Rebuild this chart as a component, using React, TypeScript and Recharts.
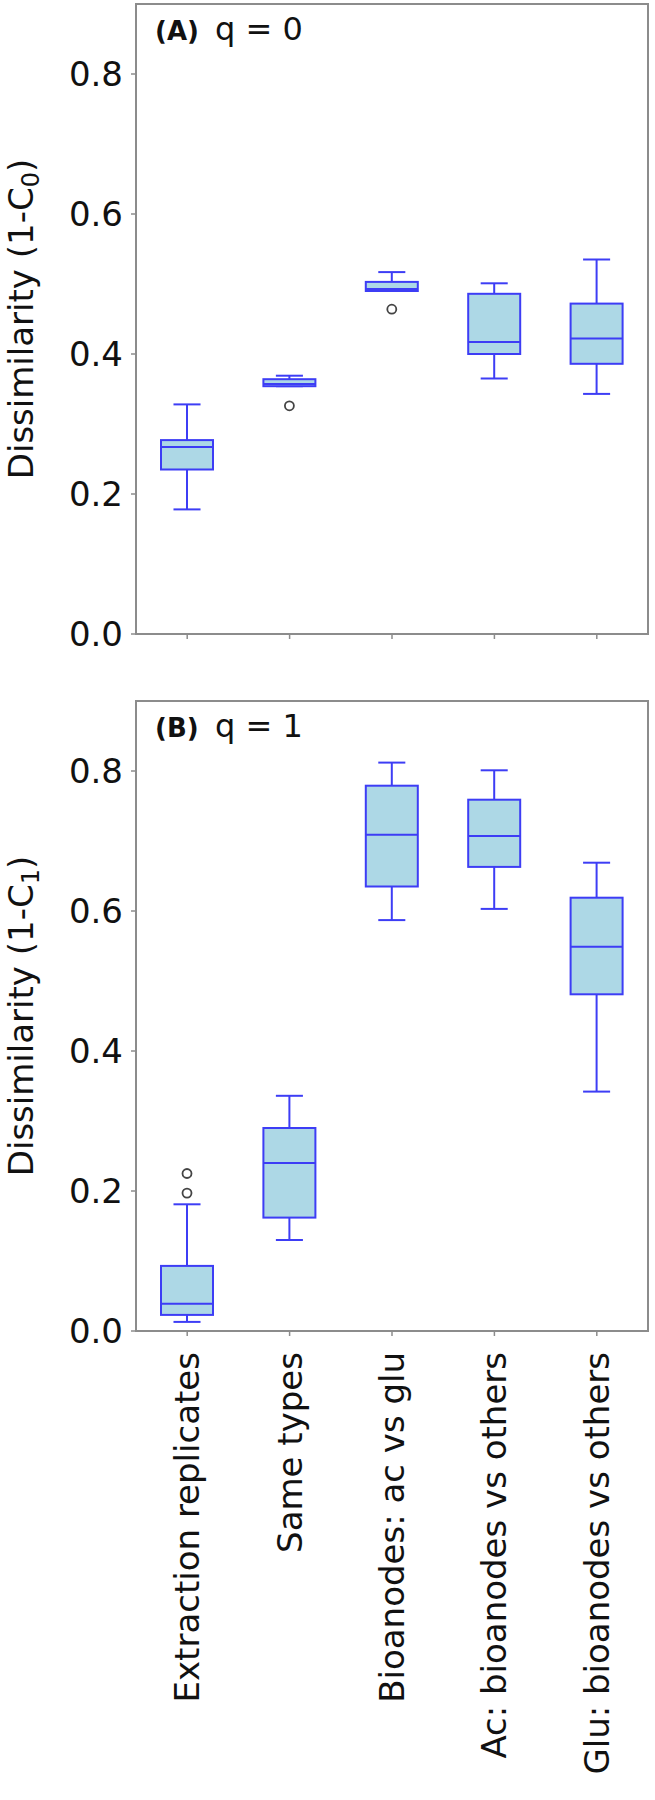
import { ComposedChart, Bar, XAxis, YAxis } from "recharts";

const categories = [
  "Extraction replicates",
  "Same types",
  "Bioanodes: ac vs glu",
  "Ac: bioanodes vs others",
  "Glu: bioanodes vs others",
];
const yTicks = [0, 0.2, 0.4, 0.6, 0.8];

// (A) q = 0
const q0Min = [0.178, 0.354, 0.49, 0.365, 0.343];
const q0Q1 = [0.235, 0.354, 0.49, 0.4, 0.386];
const q0Med = [0.267, 0.357, 0.493, 0.417, 0.422];
const q0Q3 = [0.277, 0.364, 0.503, 0.486, 0.472];
const q0Max = [0.328, 0.369, 0.517, 0.501, 0.535];
const q0Out = [[], [0.326], [0.464], [], []];

// (B) q = 1
const q1Min = [0.013, 0.13, 0.587, 0.603, 0.342];
const q1Q1 = [0.023, 0.162, 0.635, 0.663, 0.481];
const q1Med = [0.039, 0.24, 0.709, 0.707, 0.549];
const q1Q3 = [0.093, 0.29, 0.779, 0.759, 0.619];
const q1Max = [0.181, 0.336, 0.812, 0.801, 0.669];
const q1Out = [[0.225, 0.197], [], [], [], []];

const BOX = "#3d3df5";
const FILL = "#add8e6";
const FRAME = "#8c8c8c";
const FONT = "'DejaVu Sans', sans-serif";

// plot box inside each chart
const LEFT = 136;
const TOP = 4;
const PLOT_W = 512;
const PLOT_H = 630;

type Row = {
  name: string;
  range: [number, number];
  min: number;
  q1: number;
  med: number;
  q3: number;
  max: number;
  out: number[];
};

function buildRows(
  mins: number[],
  q1s: number[],
  meds: number[],
  q3s: number[],
  maxs: number[],
  outs: number[][]
): Row[] {
  return categories.map((name, i) => ({
    name,
    range: [Math.min(mins[i], ...outs[i]), Math.max(maxs[i], ...outs[i])],
    min: mins[i],
    q1: q1s[i],
    med: meds[i],
    q3: q3s[i],
    max: maxs[i],
    out: outs[i],
  }));
}

const rowsA = buildRows(q0Min, q0Q1, q0Med, q0Q3, q0Max, q0Out);
const rowsB = buildRows(q1Min, q1Q1, q1Med, q1Q3, q1Max, q1Out);

const BoxShape = (props: any) => {
  const { x, y, width, height, payload } = props;
  if (!payload) return null;
  const top = Math.min(y, y + height);
  const h = Math.abs(height);
  const [lo, hi] = payload.range;
  const py = (v: number) => top + ((hi - v) / (hi - lo)) * h;
  const cx = x + width / 2;
  const capHalf = width * 0.26;
  return (
    <g>
      <line x1={cx} x2={cx} y1={py(payload.max)} y2={py(payload.q3)} stroke={BOX} strokeWidth={2} />
      <line x1={cx} x2={cx} y1={py(payload.q1)} y2={py(payload.min)} stroke={BOX} strokeWidth={2} />
      <line x1={cx - capHalf} x2={cx + capHalf} y1={py(payload.max)} y2={py(payload.max)} stroke={BOX} strokeWidth={2} />
      <line x1={cx - capHalf} x2={cx + capHalf} y1={py(payload.min)} y2={py(payload.min)} stroke={BOX} strokeWidth={2} />
      <rect
        x={x}
        y={py(payload.q3)}
        width={width}
        height={Math.max(py(payload.q1) - py(payload.q3), 0.5)}
        fill={FILL}
        stroke={BOX}
        strokeWidth={2}
      />
      <line x1={x} x2={x + width} y1={py(payload.med)} y2={py(payload.med)} stroke={BOX} strokeWidth={2} />
      {payload.out.map((o: number, i: number) => (
        <circle key={i} cx={cx} cy={py(o)} r={4.5} fill="none" stroke="#444" strokeWidth={1.8} />
      ))}
    </g>
  );
};

const XTick = (props: any) => {
  const { x, y, payload } = props;
  return (
    <text
      x={x}
      y={y}
      transform={`rotate(-90, ${x}, ${y})`}
      textAnchor="end"
      dominantBaseline="central"
      fontSize={34}
      fontFamily={FONT}
      fill="#111"
    >
      {payload.value}
    </text>
  );
};

const NoTick = () => <g />;

type PanelProps = {
  rows: Row[];
  letter: string;
  q: string;
  height: number;
  xHeight: number;
  bottom: number;
  labels: boolean;
};

const Panel = ({ rows, letter, q, height, xHeight, bottom, labels }: PanelProps) => (
  <ComposedChart
    width={655}
    height={height}
    data={rows}
    margin={{ top: TOP, right: 655 - LEFT - PLOT_W, bottom, left: 0 }}
  >
    <XAxis
      dataKey="name"
      interval={0}
      height={xHeight}
      axisLine={{ stroke: FRAME, strokeWidth: 2 }}
      tickLine={{ stroke: FRAME, strokeWidth: 1.5 }}
      tickSize={5}
      tickMargin={16}
      tick={labels ? <XTick /> : <NoTick />}
    />
    <YAxis
      domain={[0, 0.9]}
      ticks={yTicks}
      interval={0}
      width={LEFT}
      tickFormatter={(v: number) => v.toFixed(1)}
      tick={{ fontSize: 34, fill: "#111", fontFamily: FONT }}
      tickSize={5}
      tickMargin={8}
      axisLine={{ stroke: FRAME, strokeWidth: 2 }}
      tickLine={{ stroke: FRAME, strokeWidth: 1.5 }}
    />
    <Bar dataKey="range" barSize={52} shape={<BoxShape />} isAnimationActive={false} />
    <rect x={LEFT} y={TOP} width={PLOT_W} height={PLOT_H} fill="none" stroke={FRAME} strokeWidth={2} />
    <text
      x={33}
      y={TOP + PLOT_H / 2}
      transform={`rotate(-90, 33, ${TOP + PLOT_H / 2})`}
      textAnchor="middle"
      fontSize={34}
      fontFamily={FONT}
      fill="#111"
    >
      Dissimilarity (1-C
      <tspan fontSize={24} dy={6}>
        {q}
      </tspan>
      <tspan dy={-6}>)</tspan>
    </text>
    <text x={155} y={TOP + 36} fontSize={26} fontWeight="bold" fontFamily={FONT} fill="#111">
      ({letter})
    </text>
    <text x={215} y={TOP + 36} fontSize={32} fontFamily={FONT} fill="#111">
      q = {q}
    </text>
  </ComposedChart>
);

export default function App() {
  return (
    <div style={{ position: "absolute", left: 0, top: 0, width: 655, height: 1800, background: "#fff" }}>
      <div style={{ position: "absolute", left: 0, top: 0 }}>
        <Panel rows={rowsA} letter="A" q="0" height={664} xHeight={10} bottom={20} labels={false} />
      </div>
      <div style={{ position: "absolute", left: 0, top: 697 }}>
        <Panel rows={rowsB} letter="B" q="1" height={1103} xHeight={469} bottom={0} labels />
      </div>
    </div>
  );
}
